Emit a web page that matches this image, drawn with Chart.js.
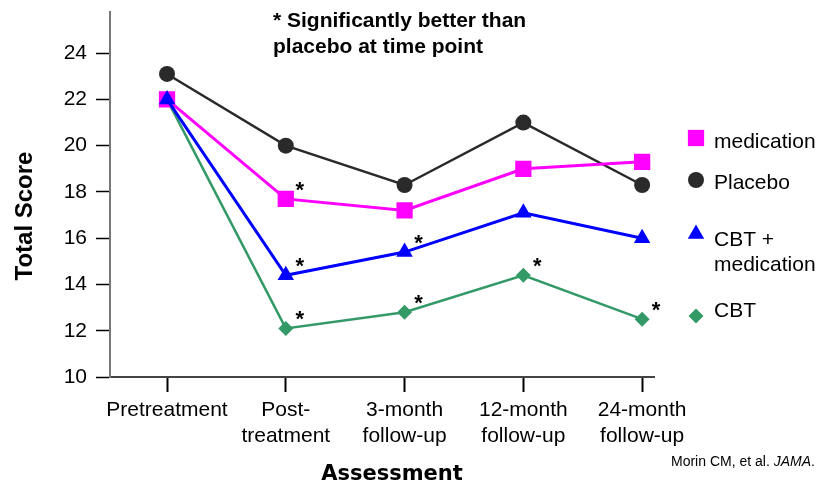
<!DOCTYPE html>
<html>
<head>
<meta charset="utf-8">
<script src="https://cdn.jsdelivr.net/npm/chart.js@4"></script>
<style>
  html, body { margin: 0; padding: 0; background: #fff; }
</style>
</head>
<body>
<canvas id="chart" width="822" height="489"></canvas>
<script>
// data
const timePoints = [['Pretreatment'], ['Post-', 'treatment'], ['3-month', 'follow-up'], ['12-month', 'follow-up'], ['24-month', 'follow-up']];
const medication    = [22.0, 17.7, 17.2, 19.0, 19.3];
const placebo       = [23.1, 20.0, 18.3, 21.0, 18.3];
const cbtMedication = [22.0, 14.4, 15.4, 17.1, 16.0];
const cbt           = [22.0, 12.1, 12.8, 14.4, 12.5];
const yTicks = [10, 12, 14, 16, 18, 20, 22, 24];
// [dataset index, time point] marked with *
const significant = [[0, 1], [2, 1], [3, 1], [2, 2], [3, 2], [3, 3], [3, 4]];

const FONT = '"Liberation Sans", Arial, sans-serif';

function series(label, values, color, style, radius, width, order) {
  return {
    label: label,
    data: values.map((v, i) => ({ x: i, y: v })),
    borderColor: color,
    backgroundColor: color,
    borderWidth: width,
    pointStyle: style,
    pointRadius: radius,
    pointBorderWidth: 0,
    pointBackgroundColor: color,
    order: order,
    tension: 0
  };
}

const datasets = [
  series('medication', medication, '#ff00ff', 'rect', 11.5, 3, 2),
  series('Placebo', placebo, '#2a2a2a', 'circle', 8, 2.5, 3),
  series('CBT + medication', cbtMedication, '#0000ff', 'triangle', 9.5, 3, 1),
  series('CBT', cbt, '#339966', 'rectRot', 7.5, 2.5, 4)
];

// legend, notes, asterisks and axis titles
const overlay = {
  id: 'overlay',
  afterDatasetsDraw(chart) {
    const ctx = chart.ctx;
    ctx.save();
    ctx.fillStyle = '#000';

    // asterisks
    ctx.font = 'bold 22px ' + FONT;
    ctx.textAlign = 'center';
    ctx.textBaseline = 'alphabetic';
    significant.forEach(function (s) {
      const pt = chart.getDatasetMeta(s[0]).data[s[1]];
      ctx.fillText('*', pt.x + 14, pt.y - 2);
    });

    // note
    ctx.font = 'bold 21px ' + FONT;
    ctx.textAlign = 'left';
    ctx.textBaseline = 'middle';
    ctx.fillText('* Significantly better than', 273, 21);
    ctx.fillText('placebo at time point', 273, 47);

    // legend
    const rows = [
      { ds: 0, y: 138, text: ['medication'], ty: 142 },
      { ds: 1, y: 180, text: ['Placebo'], ty: 183 },
      { ds: 2, y: 234, text: ['CBT +', 'medication'], ty: 240 },
      { ds: 3, y: 316, text: ['CBT'], ty: 311 }
    ];
    ctx.font = '21px ' + FONT;
    rows.forEach(function (r) {
      const d = chart.data.datasets[r.ds];
      ctx.fillStyle = d.pointBackgroundColor;
      Chart.helpers.drawPoint(ctx, { pointStyle: d.pointStyle, radius: d.pointRadius, rotation: 0, borderWidth: 0 }, 696, r.y);
      ctx.fillStyle = '#000';
      r.text.forEach(function (t, k) {
        ctx.fillText(t, 714, r.ty + k * 25);
      });
    });

    // axis titles
    ctx.textAlign = 'center';
    ctx.font = 'bold 21px "DejaVu Sans", Verdana, sans-serif';
    ctx.fillText('Assessment', 392, 475);

    ctx.save();
    ctx.translate(25, 216);
    ctx.rotate(-Math.PI / 2);
    ctx.font = 'bold 24px ' + FONT;
    ctx.fillText('Total Score', 0, 0);
    ctx.restore();

    // citation
    ctx.textAlign = 'left';
    ctx.font = '14px ' + FONT;
    let x = 671;
    const a = 'Morin CM, et al. ';
    ctx.fillText(a, x, 462);
    x += ctx.measureText(a).width;
    ctx.font = 'italic 14px ' + FONT;
    ctx.fillText('JAMA', x, 462);
    x += ctx.measureText('JAMA').width;
    ctx.font = '14px ' + FONT;
    ctx.fillText('.', x, 462);

    ctx.restore();
  }
};

new Chart(document.getElementById('chart').getContext('2d'), {
  type: 'line',
  data: { datasets: datasets },
  options: {
    responsive: false,
    animation: false,
    layout: { padding: { left: 0, right: 168, top: 3, bottom: 0 } },
    plugins: { legend: { display: false }, tooltip: { enabled: false } },
    scales: {
      x: {
        type: 'linear',
        min: -0.48,
        max: 4.1,
        afterBuildTicks: function (s) { s.ticks = timePoints.map((_, i) => ({ value: i })); },
        afterFit: function (s) { s.height = 112; s.paddingLeft = 0; s.paddingRight = 0; },
        ticks: {
          callback: function (v) { return timePoints[v]; },
          color: '#000',
          font: { family: FONT, size: 21, lineHeight: 1.2 },
          padding: 6,
          maxRotation: 0,
          autoSkip: false
        },
        grid: { drawOnChartArea: false, tickLength: 15, tickColor: '#000', tickWidth: 2 },
        border: { color: '#444', width: 2 }
      },
      y: {
        min: 10,
        max: 25.8,
        afterBuildTicks: function (s) { s.ticks = yTicks.map(v => ({ value: v })); },
        afterFit: function (s) { s.width = 110; s.paddingTop = 0; s.paddingBottom = 0; },
        ticks: { color: '#000', font: { family: FONT, size: 21 }, padding: 9 },
        grid: { drawOnChartArea: false, tickLength: 14, tickColor: '#000', tickWidth: 1.5 },
        border: { color: '#777', width: 2 }
      }
    }
  },
  plugins: [overlay]
});
</script>
</body>
</html>
